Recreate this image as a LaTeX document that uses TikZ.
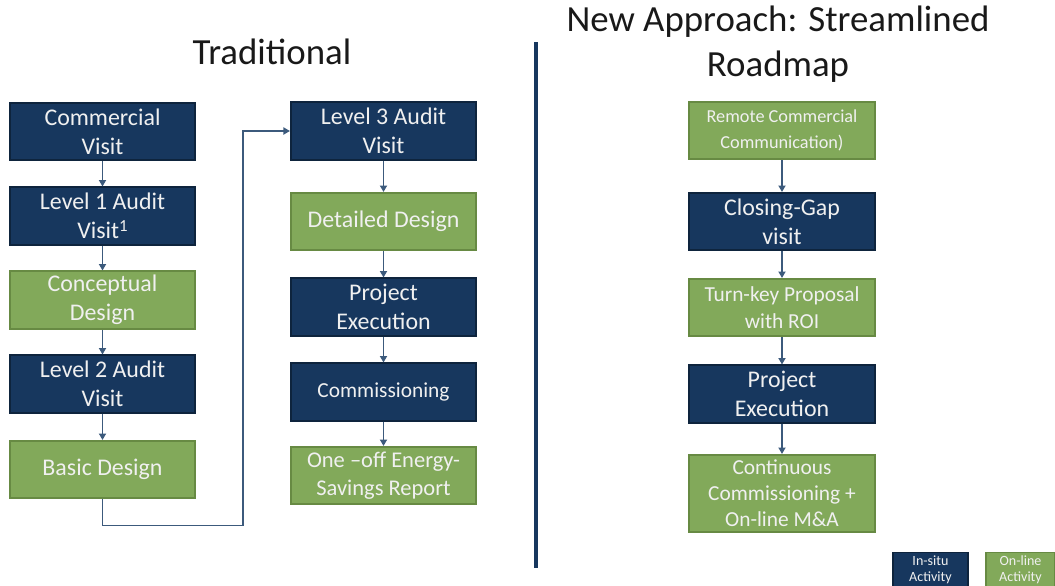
\documentclass[tikz,border=0pt]{standalone}
\usepackage{fontspec}
\setmainfont{Carlito}
\usetikzlibrary{arrows.meta,positioning}
\definecolor{navy}{HTML}{17375E}
\definecolor{navyline}{HTML}{0E243D}
\definecolor{olive}{HTML}{82A95A}
\definecolor{oliveline}{HTML}{678A43}
\definecolor{linkcol}{HTML}{3C5A7C}
\tikzset{
  insitu/.style={rectangle, draw=navyline, line width=1.4pt, fill=navy, text=white!94!black,
    align=center, inner sep=2pt, minimum width=4.63cm, minimum height=1.43cm,
    font=\fontsize{17}{20.5}\selectfont},
  online/.style={insitu, draw=oliveline, fill=olive},
  small/.style={font=\fontsize{15.2}{19}\selectfont},
  flow/.style={-{Triangle[length=1.6mm, width=1.8mm]}, draw=linkcol, line width=0.8pt},
  heading/.style={font=\fontsize{26.2}{32}\selectfont, text=black!90, align=center},
}
\begin{document}
\begin{tikzpicture}[x=0.025cm, y=-0.025cm]
\useasboundingbox (0,0) rectangle (1055,586);
% titles
\node[heading] (trad) at (272,52) {Traditional};
\node[heading] (newap) at (778,44) {New Approach: Streamlined\\Roadmap};
\draw[navy, line width=2.2pt] (536,42) -- (536,568);
% traditional, first column
\node[insitu] at (102.5,131.5) (comv) {Commercial\\Visit};
\node[insitu] at (102.5,216)   (lvla) {Level 1 Audit\\Visit{\fontsize{12}{12}\selectfont\raisebox{0.9ex}{1}}};
\node[online] at (102.5,300)   (cdes) {Conceptual\\Design};
\node[insitu] at (102.5,384)   (lvlb) {Level 2 Audit\\Visit};
\node[online] at (102.5,469.5) (bdes) {Basic Design};
% traditional, second column
\node[insitu] at (383.5,131)   (lvlc) {Level 3 Audit\\Visit};
\node[online] at (383.5,221.5) (ddes) {Detailed Design};
\node[insitu] at (383.5,307)   (pexe) {Project\\Execution};
\node[insitu, small] at (383.5,392)   (comm) {Commissioning};
\node[online, font=\fontsize{16}{20}\selectfont] at (383.5,475.5) (rept) {One --off Energy-\\Savings Report};
% streamlined roadmap
\node[online, font=\fontsize{13}{18}\selectfont] at (782,130.5) (rcom) {Remote Commercial\\Communication)};
\node[insitu] at (782,221.5) (cgap) {Closing-Gap\\visit};
\node[online, small] at (782,307.5) (tkey) {Turn-key Proposal\\with ROI};
\node[insitu] at (782,394) (nexe) {Project\\Execution};
\node[online, small, minimum height=1.93cm, font=\fontsize{15.2}{18.5}\selectfont] at (782,493.5) (ccom)
  {Continuous\\Commissioning +\\On-line M\&A};
% legend
\node[insitu, minimum width=1.88cm, minimum height=0.85cm, inner sep=0pt, line width=1pt,
  font=\fontsize{10}{11.5}\selectfont] at (930.5,569.5) (legi) {In-situ\\Activity};
\node[online, minimum width=1.73cm, minimum height=0.85cm, inner sep=0pt, line width=1pt,
  font=\fontsize{10}{11.5}\selectfont] at (1020.5,569.5) (lego) {On-line\\Activity};
% flows
\draw[flow] (comv) -- (lvla);
\draw[flow] (lvla) -- (cdes);
\draw[flow] (cdes) -- (lvlb);
\draw[flow] (lvlb) -- (bdes);
\draw[flow] (bdes.south) -- ++(0,26) -| (243,131) -- (lvlc.west);
\draw[flow] (lvlc) -- (ddes);
\draw[flow] (ddes) -- (pexe);
\draw[flow] (pexe) -- (comm);
\draw[flow] (comm) -- (rept);
\draw[flow] (rcom) -- (cgap);
\draw[flow] (cgap) -- (tkey);
\draw[flow] (tkey) -- (nexe);
\draw[flow] (nexe) -- (ccom);
\end{tikzpicture}
\end{document}
